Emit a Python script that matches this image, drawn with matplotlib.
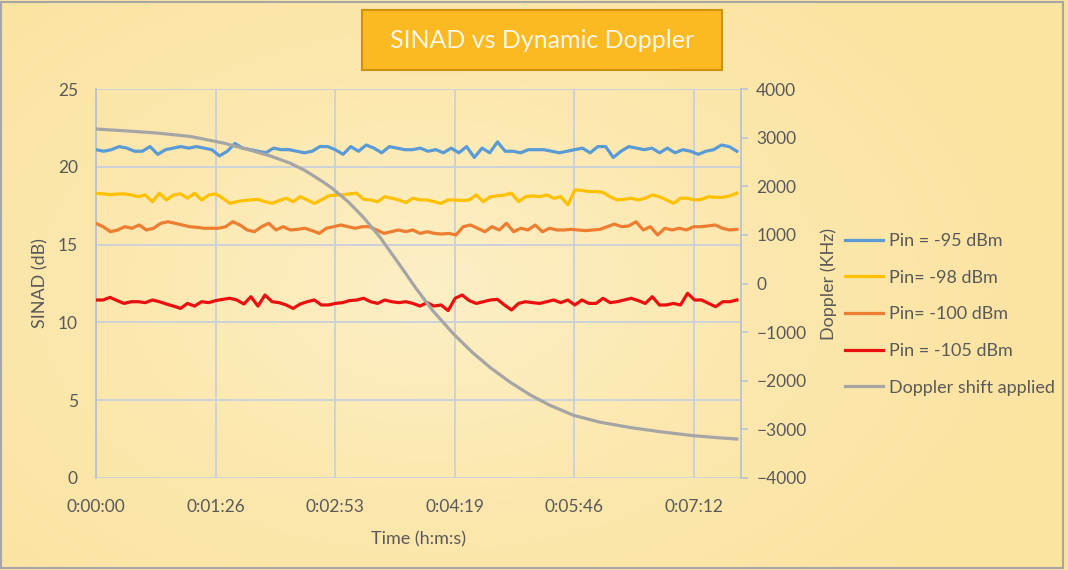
import numpy as np
import matplotlib
matplotlib.use("Agg")
import matplotlib.pyplot as plt
from matplotlib.patches import Rectangle
from matplotlib.colors import LinearSegmentedColormap

plt.rcParams['font.family'] = ['Lato', 'DejaVu Sans']

# ---------------- data ----------------
T_END = 463  # seconds, last sample
x_ticks = [0, 86.4, 172.8, 259.2, 345.6, 432.0]
x_tick_labels = ["0:00:00", "0:01:26", "0:02:53", "0:04:19", "0:05:46", "0:07:12"]

pin_95 = [21.1, 21.0, 21.1, 21.3, 21.2, 21.0, 21.0, 21.3, 20.8, 21.1, 21.2, 21.3, 21.2, 21.3, 21.2,
          21.1, 20.7, 21.0, 21.5, 21.2, 21.1, 21.0, 20.9, 21.2, 21.1, 21.1, 21.0, 20.9, 21.0, 21.3,
          21.3, 21.1, 20.8, 21.3, 21.0, 21.4, 21.2, 20.9, 21.3, 21.2, 21.1, 21.1, 21.2, 21.0,
          21.1, 20.9, 21.2, 20.9, 21.3, 20.6, 21.2, 20.9, 21.6, 21.0, 21.0, 20.9, 21.1, 21.1, 21.1,
          21.0, 20.9, 21.0, 21.1, 21.2, 20.9, 21.3, 21.3, 20.6, 21.0, 21.3, 21.2, 21.1, 21.2, 20.9,
          21.2, 20.9, 21.1, 21.0, 20.8, 21.0, 21.1, 21.4, 21.3, 21.0]

pin_98 = [18.30, 18.26, 18.21, 18.25, 18.26, 18.19, 18.08, 18.19, 17.76, 18.30, 17.87, 18.19, 18.26,
          17.98, 18.30, 17.87, 18.19, 18.26, 17.98, 17.65, 17.76, 17.83, 17.87, 17.91, 17.76, 17.65,
          17.83, 17.98, 17.76, 18.08, 17.87, 17.65, 17.87, 18.13, 18.19, 18.19, 18.26, 18.30, 17.91,
          17.87, 17.76, 18.08, 17.98, 17.87, 17.70, 17.98, 17.87,
          17.87, 17.76, 17.65, 17.87, 17.87, 17.83, 17.87, 18.19, 17.76, 18.08, 18.13, 18.19, 18.30,
          17.76, 18.08, 18.13, 18.08, 18.19, 17.98, 18.08, 17.55, 18.52, 18.48, 18.41, 18.41, 18.35,
          18.08, 17.87, 17.91, 17.98, 17.87, 17.98, 18.19, 18.08, 17.87, 17.65, 17.98, 17.98, 17.87,
          17.91, 18.08, 18.04, 18.04, 18.13, 18.30]

pin_100 = [16.37, 16.15, 15.83, 15.94, 16.15, 16.05, 16.26, 15.94, 16.05, 16.37, 16.47, 16.37, 16.26,
           16.15, 16.11, 16.05, 16.05, 16.05, 16.15, 16.47, 16.26, 15.94, 15.83, 16.15, 16.37, 15.94,
           16.15, 15.94, 15.98, 16.05, 15.90, 15.72, 16.05, 16.15, 16.26, 16.15, 16.05, 16.15, 16.15,
           15.94, 15.72, 15.83, 15.94, 15.83, 15.94, 15.72, 15.83,
           15.72, 15.68, 15.72, 15.62, 16.15, 16.26, 16.05, 15.83, 16.15, 15.94, 16.37, 15.83, 16.05,
           15.94, 16.26, 15.83, 16.05, 15.94, 15.94, 15.98, 15.94, 15.90, 15.94, 15.98, 16.15, 16.32,
           16.15, 16.20, 16.47, 15.94, 16.15, 15.62, 16.05, 15.94, 16.05, 15.94, 16.15, 16.15, 16.20,
           16.26, 16.05, 15.94, 15.98]

pin_105 = [11.44, 11.44, 11.61, 11.40, 11.22, 11.33, 11.33, 11.27, 11.44, 11.33, 11.18, 11.05, 10.90,
           11.22, 11.05, 11.33, 11.27, 11.40, 11.48, 11.55, 11.44, 11.18, 11.65, 11.05, 11.76, 11.33,
           11.27, 11.12, 10.90, 11.18, 11.33, 11.44, 11.12, 11.12, 11.22, 11.27, 11.40, 11.44, 11.55,
           11.33, 11.22, 11.44, 11.33, 11.27, 11.33, 11.22, 11.05,
           11.27, 11.05, 11.12, 10.76, 11.55, 11.76, 11.40, 11.22, 11.33, 11.44, 11.48, 11.12, 10.80,
           11.22, 11.33, 11.27, 11.22, 11.33, 11.44, 11.27, 11.44, 11.12, 11.44, 11.22, 11.22, 11.55,
           11.27, 11.33, 11.44, 11.55, 11.40, 11.22, 11.65, 11.12, 11.12, 11.22, 11.12, 11.87, 11.44,
           11.44, 11.22, 11.01, 11.33, 11.33, 11.44]

doppler_t = [0, 21, 44, 68, 92, 111, 126, 140, 151, 164, 171, 182, 193, 205, 220, 231, 243,
             258, 272, 285, 299, 314, 328, 345, 364, 386, 407, 431, 451, 463]
doppler_khz = [3177, 3140, 3095, 3025, 2889, 2746, 2622, 2478, 2324, 2090, 1950, 1686, 1367, 959,
               359, -92, -548, -1028, -1420, -1732, -2026, -2296, -2506, -2710, -2852, -2962,
               -3046, -3128, -3175, -3198]

series = [
    ("Pin = -95 dBm", pin_95, "#5B9BD5"),
    ("Pin= -98 dBm", pin_98, "#FFC000"),
    ("Pin= -100 dBm", pin_100, "#ED7D31"),
    ("Pin = -105 dBm", pin_105, "#EA1010"),
]
doppler_label = "Doppler shift applied"
doppler_color = "#A5A5A5"

# ---------------- figure ----------------
W, H = 1068, 570
fig = plt.figure(figsize=(W / 100, H / 100), dpi=100)

# radial gradient background
bg = fig.add_axes([0, 0, 1, 1], zorder=-10)
yy, xx = np.mgrid[0:H, 0:W]
r = np.sqrt(((xx - 430) / 650.0) ** 2 + ((yy - 290) / 430.0) ** 2)
r = np.clip(r, 0, 1)
cmap = LinearSegmentedColormap.from_list("bg", ["#FDEFC6", "#FCE8AE", "#FBE3A0"])
bg.imshow(r, cmap=cmap, vmin=0, vmax=1, aspect="auto", extent=[0, W, H, 0])
bg.set_xlim(0, W)
bg.set_ylim(H, 0)
bg.axis("off")
bg.add_patch(Rectangle((1, 2), W - 6, H - 4, fill=False, edgecolor="#A6A6A6", linewidth=1.5))

# title box
bg.add_patch(Rectangle((362, 10), 360, 60, facecolor="#FBBA22", edgecolor="#CF9206", linewidth=1.5))
bg.text(542, 41, "SINAD vs Dynamic Doppler", color="#FFF6E6", fontsize=18,
        ha="center", va="center")

grid_c = "#C9D0DD"
text_c = "#595959"

ax = fig.add_axes([96 / W, 1 - 478 / H, (741 - 96) / W, (478 - 89) / H])
ax.patch.set_alpha(0)
x_end = 466
ax.set_xlim(0, x_end)
ax.set_ylim(0, 25)
ax.set_yticks([0, 5, 10, 15, 20, 25])
ax.set_xticks(x_ticks)
ax.set_xticklabels(x_tick_labels)
ax.grid(True, color=grid_c, linewidth=1.3)
ax.set_axisbelow(True)
for s in ax.spines.values():
    s.set_visible(False)
ax.spines["left"].set_visible(True)
ax.spines["left"].set_color("#B8C2D2")
ax.spines["left"].set_linewidth(1.3)
ax.tick_params(axis="y", length=0, labelsize=12.5, colors=text_c, pad=13)
ax.tick_params(axis="x", length=0, labelsize=12.5, colors=text_c, pad=15)
ax.set_ylabel("SINAD (dB)", fontsize=13, color=text_c, labelpad=7)
ax.set_xlabel("Time (h:m:s)", fontsize=13, color=text_c, labelpad=12)

handles = []
for label, vals, col in series:
    t = np.linspace(0, T_END, len(vals))
    ln, = ax.plot(t, vals, color=col, linewidth=2.3, label=label, zorder=3)
    handles.append(ln)

ax2 = ax.twinx()
ax2.set_ylim(-4000, 4000)
ax2.set_yticks(np.arange(-4000, 4001, 1000))
for s in ax2.spines.values():
    s.set_visible(False)
ax2.spines["right"].set_visible(True)
ax2.spines["right"].set_color("#B8C2D2")
ax2.spines["right"].set_linewidth(1.3)
ax2.tick_params(axis="y", length=5, width=1.1, color="#B8C2D2", labelsize=12.5,
                labelcolor=text_c, pad=6)
ax2.set_ylabel("Doppler (KHz)", fontsize=13, color=text_c, labelpad=10)
dl, = ax2.plot(doppler_t, doppler_khz, color=doppler_color, linewidth=2.3, label=doppler_label,
               zorder=2, solid_joinstyle="round")
handles.append(dl)

leg = fig.legend(handles=handles, loc="upper left", bbox_to_anchor=(838 / W, 1 - 226 / H),
                 frameon=False, fontsize=13, labelcolor=text_c, handlelength=2.1,
                 handletextpad=0.3, labelspacing=1.14, borderaxespad=0)

fig.savefig("out.png", dpi=100)
